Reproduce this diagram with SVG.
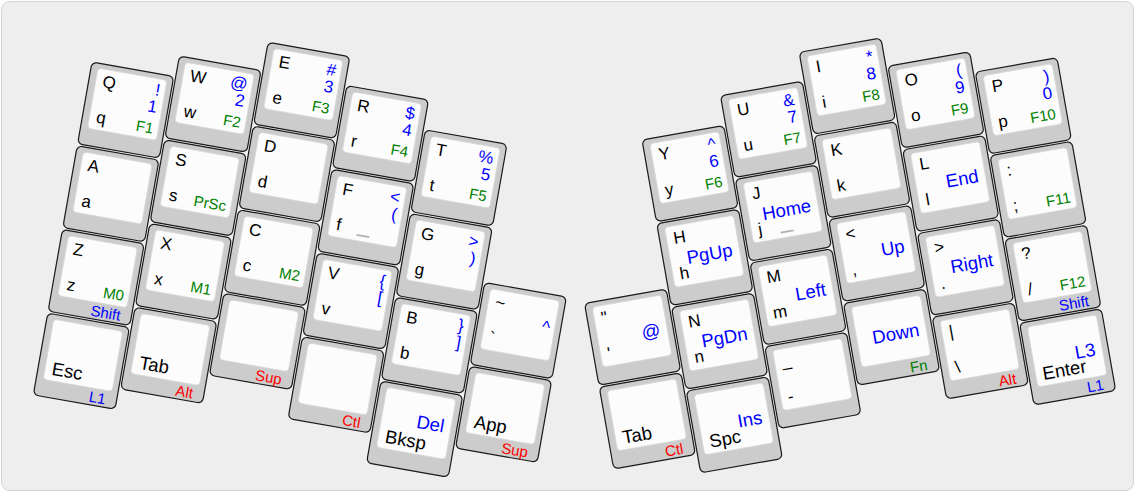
<svg xmlns="http://www.w3.org/2000/svg" width="1135" height="492" viewBox="0 0 1135 492">
<style>
.o{fill:#cccccc;stroke:#1a1a1a;stroke-width:1.2}
.i{fill:#fcfcfc;stroke:#d8d8d8;stroke-width:0.8}
.n{fill:#b0b0b0}
text{font-family:"Liberation Sans",Arial,Helvetica,sans-serif;font-size:17px;fill:#000}
.e{text-anchor:end}
.b{fill:#0000ff}
.g{fill:#008000}
.r{fill:#ff0000}
.s{font-size:15px}
.L{font-size:18.5px}
</style>
<defs>
<g id="cap"><rect class="o" x="0" y="0" width="83" height="83" rx="5"/><rect class="i" x="7" y="5" width="70" height="61" rx="4"/></g>
<rect id="nub" class="n" x="35.5" y="59.5" width="13" height="1.6"/>
</defs>
<rect x="1.5" y="1.5" width="1132" height="489" rx="8" fill="#eeeeee" stroke="#d4d4d4"/>
<g id="connectors"/>
<g id="left-half" transform="translate(92,62) rotate(10)">
<g id="key-q" transform="translate(0,0)"><use href="#cap"/><text x="14" y="23">Q</text><text class="e b" x="72" y="22">!</text><text class="e b" x="72" y="39">1</text><text x="14" y="59">q</text><text class="e g s" x="72" y="60">F1</text></g>
<g id="key-w" transform="translate(85,-21)"><use href="#cap"/><text x="14" y="23">W</text><text class="e b" x="72" y="22">@</text><text class="e b" x="72" y="39">2</text><text x="14" y="59">w</text><text class="e g s" x="72" y="60">F2</text></g>
<g id="key-e" transform="translate(170,-50)"><use href="#cap"/><text x="14" y="23">E</text><text class="e b" x="72" y="22">#</text><text class="e b" x="72" y="39">3</text><text x="14" y="59">e</text><text class="e g s" x="72" y="60">F3</text></g>
<g id="key-r" transform="translate(255,-21)"><use href="#cap"/><text x="14" y="23">R</text><text class="e b" x="72" y="22">$</text><text class="e b" x="72" y="39">4</text><text x="14" y="59">r</text><text class="e g s" x="72" y="60">F4</text></g>
<g id="key-t" transform="translate(340,9)"><use href="#cap"/><text x="14" y="23">T</text><text class="e b" x="72" y="22">%</text><text class="e b" x="72" y="39">5</text><text x="14" y="59">t</text><text class="e g s" x="72" y="60">F5</text></g>
<g id="key-a" transform="translate(0,85)"><use href="#cap"/><text x="14" y="23">A</text><text x="14" y="59">a</text></g>
<g id="key-s" transform="translate(85,64)"><use href="#cap"/><text x="14" y="23">S</text><text x="14" y="59">s</text><text class="e g s" x="72" y="60">PrSc</text></g>
<g id="key-d" transform="translate(170,35)"><use href="#cap"/><text x="14" y="23">D</text><text x="14" y="59">d</text></g>
<g id="key-f" transform="translate(255,64)"><use href="#cap"/><text x="14" y="23">F</text><text class="e b" x="72" y="22">&lt;</text><text class="e b" x="72" y="39">(</text><text x="14" y="59">f</text><use href="#nub"/></g>
<g id="key-g" transform="translate(340,94)"><use href="#cap"/><text x="14" y="23">G</text><text class="e b" x="72" y="22">&gt;</text><text class="e b" x="72" y="39">)</text><text x="14" y="59">g</text></g>
<g id="key-z" transform="translate(0,170)"><use href="#cap"/><text x="14" y="23">Z</text><text x="14" y="59">z</text><text class="e g s" x="72" y="60">M0</text><text class="e b s" x="72" y="80">Shift</text></g>
<g id="key-x" transform="translate(85,149)"><use href="#cap"/><text x="14" y="23">X</text><text x="14" y="59">x</text><text class="e g s" x="72" y="60">M1</text></g>
<g id="key-c" transform="translate(170,120)"><use href="#cap"/><text x="14" y="23">C</text><text x="14" y="59">c</text><text class="e g s" x="72" y="60">M2</text></g>
<g id="key-v" transform="translate(255,149)"><use href="#cap"/><text x="14" y="23">V</text><text class="e b" x="72" y="22">{</text><text class="e b" x="72" y="39">[</text><text x="14" y="59">v</text></g>
<g id="key-b" transform="translate(340,179)"><use href="#cap"/><text x="14" y="23">B</text><text class="e b" x="72" y="22">}</text><text class="e b" x="72" y="39">]</text><text x="14" y="59">b</text></g>
<g id="key-tilde" transform="translate(425,149)"><use href="#cap"/><text x="14" y="23">~</text><text class="e b" x="72" y="39">^</text><text x="14" y="59">`</text></g>
<g id="key-esc" transform="translate(0,255)"><use href="#cap"/><text class="L" x="14" y="60">Esc</text><text class="e b s" x="72" y="80">L1</text></g>
<g id="key-tab-l" transform="translate(85,234)"><use href="#cap"/><text class="L" x="14" y="60">Tab</text><text class="e r s" x="72" y="80">Alt</text></g>
<g id="key-sup-l" transform="translate(170,205)"><use href="#cap"/><text class="e r s" x="72" y="80">Sup</text></g>
<g id="key-ctl-l" transform="translate(255,234)"><use href="#cap"/><text class="e r s" x="72" y="80">Ctl</text></g>
<g id="key-bksp" transform="translate(340,264)"><use href="#cap"/><text class="e b L" x="70" y="40">Del</text><text class="L" x="14" y="60">Bksp</text></g>
<g id="key-app" transform="translate(425,234)"><use href="#cap"/><text class="L" x="14" y="60">App</text><text class="e r s" x="72" y="80">Sup</text></g>
</g>
<g id="right-half" transform="translate(642,140) rotate(-10)">
<g id="key-y" transform="translate(0,0)"><use href="#cap"/><text x="14" y="23">Y</text><text class="e b" x="72" y="22">^</text><text class="e b" x="72" y="39">6</text><text x="14" y="59">y</text><text class="e g s" x="72" y="60">F6</text></g>
<g id="key-u" transform="translate(85,-30)"><use href="#cap"/><text x="14" y="23">U</text><text class="e b" x="72" y="22">&amp;</text><text class="e b" x="72" y="39">7</text><text x="14" y="59">u</text><text class="e g s" x="72" y="60">F7</text></g>
<g id="key-i" transform="translate(170,-59)"><use href="#cap"/><text x="14" y="23">I</text><text class="e b" x="72" y="22">*</text><text class="e b" x="72" y="39">8</text><text x="14" y="59">i</text><text class="e g s" x="72" y="60">F8</text></g>
<g id="key-o" transform="translate(255,-30)"><use href="#cap"/><text x="14" y="23">O</text><text class="e b" x="72" y="22">(</text><text class="e b" x="72" y="39">9</text><text x="14" y="59">o</text><text class="e g s" x="72" y="60">F9</text></g>
<g id="key-p" transform="translate(340,-9)"><use href="#cap"/><text x="14" y="23">P</text><text class="e b" x="72" y="22">)</text><text class="e b" x="72" y="39">0</text><text x="14" y="59">p</text><text class="e g s" x="72" y="60">F10</text></g>
<g id="key-h" transform="translate(0,85)"><use href="#cap"/><text x="14" y="23">H</text><text class="e b L" x="70" y="45">PgUp</text><text x="14" y="59">h</text></g>
<g id="key-j" transform="translate(85,55)"><use href="#cap"/><text x="14" y="23">J</text><text class="e b L" x="70" y="45">Home</text><text x="14" y="59">j</text><use href="#nub"/></g>
<g id="key-k" transform="translate(170,26)"><use href="#cap"/><text x="14" y="23">K</text><text x="14" y="59">k</text></g>
<g id="key-l" transform="translate(255,55)"><use href="#cap"/><text x="14" y="23">L</text><text class="e b L" x="70" y="45">End</text><text x="14" y="59">l</text></g>
<g id="key-semi" transform="translate(340,76)"><use href="#cap"/><text x="14" y="23">:</text><text x="14" y="59">;</text><text class="e g s" x="72" y="60">F11</text></g>
<g id="key-n" transform="translate(0,170)"><use href="#cap"/><text x="14" y="23">N</text><text class="e b L" x="70" y="45">PgDn</text><text x="14" y="59">n</text></g>
<g id="key-m" transform="translate(85,140)"><use href="#cap"/><text x="14" y="23">M</text><text class="e b L" x="70" y="45">Left</text><text x="14" y="59">m</text></g>
<g id="key-comma" transform="translate(170,111)"><use href="#cap"/><text x="14" y="23">&lt;</text><text class="e b L" x="70" y="45">Up</text><text x="14" y="59">,</text></g>
<g id="key-period" transform="translate(255,140)"><use href="#cap"/><text x="14" y="23">&gt;</text><text class="e b L" x="70" y="45">Right</text><text x="14" y="59">.</text></g>
<g id="key-slash" transform="translate(340,161)"><use href="#cap"/><text x="14" y="23">?</text><text x="14" y="59">/</text><text class="e g s" x="72" y="60">F12</text><text class="e b s" x="72" y="80">Shift</text></g>
<g id="key-quote" transform="translate(-85,151)"><use href="#cap"/><text x="14" y="23">"</text><text class="e b L" x="70" y="45">@</text><text x="14" y="59">'</text></g>
<g id="key-tab-r" transform="translate(-85,236)"><use href="#cap"/><text class="L" x="14" y="60">Tab</text><text class="e r s" x="72" y="80">Ctl</text></g>
<g id="key-spc" transform="translate(0,255)"><use href="#cap"/><text class="e b L" x="70" y="45">Ins</text><text class="L" x="14" y="60">Spc</text></g>
<g id="key-minus" transform="translate(85,225)"><use href="#cap"/><text x="14" y="23">_</text><text x="14" y="59">-</text></g>
<g id="key-down" transform="translate(170,196)"><use href="#cap"/><text class="e b L" x="70" y="45">Down</text><text class="e g s" x="72" y="80">Fn</text></g>
<g id="key-pipe" transform="translate(255,225)"><use href="#cap"/><text x="14" y="23">|</text><text x="14" y="59">\</text><text class="e r s" x="72" y="80">Alt</text></g>
<g id="key-enter" transform="translate(340,246)"><use href="#cap"/><text class="e b L" x="70" y="45">L3</text><text class="L" x="14" y="60">Enter</text><text class="e b s" x="72" y="80">L1</text></g>
</g>
</svg>
